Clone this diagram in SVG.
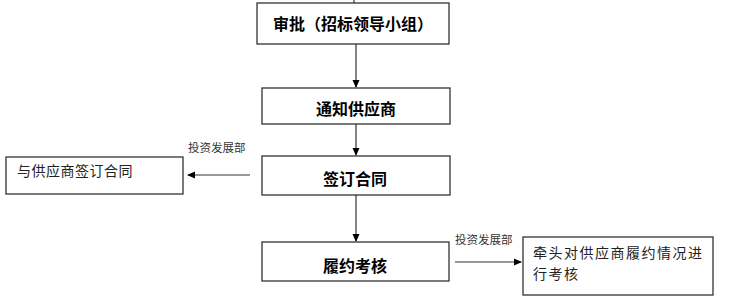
<svg xmlns="http://www.w3.org/2000/svg" width="746" height="306" viewBox="0 0 746 306">
<style>
.box{fill:#fff;stroke:#333;stroke-width:1.3}
.bt{font-family:"Liberation Sans","Noto Sans CJK SC",sans-serif;font-size:16px;font-weight:bold;fill:#000;text-anchor:middle}
.nt{font-family:"Liberation Serif","Noto Sans CJK SC",serif;font-size:14px;fill:#222;letter-spacing:1.5px}
.lb{font-family:"Liberation Serif","Noto Sans CJK SC",serif;font-size:11.5px;fill:#333}
.ln{stroke:#333;stroke-width:1.2;fill:none}
</style>
<defs>
<marker id="ah" markerWidth="8" markerHeight="8" refX="7" refY="4" orient="auto" markerUnits="userSpaceOnUse">
<path d="M0,0.5 L8,4 L0,7.5 Z" fill="#000"/>
</marker>
</defs>
<g id="connectors">
<line class="ln" x1="354" y1="0" x2="354" y2="3"/>
<line class="ln" x1="356" y1="44" x2="356" y2="87" marker-end="url(#ah)"/>
<line class="ln" x1="356" y1="124" x2="356" y2="155" marker-end="url(#ah)"/>
<line class="ln" x1="356" y1="195" x2="356" y2="241" marker-end="url(#ah)"/>
<line class="ln" x1="250" y1="175" x2="188" y2="175" marker-end="url(#ah)"/>
<line class="ln" x1="455" y1="262" x2="521" y2="262" marker-end="url(#ah)"/>
<text class="lb" x="188" y="152">投资发展部</text>
<text class="lb" x="455" y="244">投资发展部</text>
</g>
<g id="n1"><rect class="box" x="257" y="3" width="192" height="41"/><text class="bt" x="353" y="30">审批（招标领导小组）</text></g>
<g id="n2"><rect class="box" x="262" y="88" width="188" height="36"/><text class="bt" x="356" y="115">通知供应商</text></g>
<g id="n3"><rect class="box" x="262" y="156" width="188" height="39"/><text class="bt" x="355" y="185">签订合同</text></g>
<g id="n4"><rect class="box" x="262" y="242" width="187" height="39"/><text class="bt" x="355" y="272">履约考核</text></g>
<g id="n5"><rect class="box" x="6" y="157" width="177" height="37"/><text class="nt" x="17" y="176" style="letter-spacing:0.5px">与供应商签订合同</text></g>
<g id="n6"><rect class="box" x="523" y="237" width="190" height="58"/><text class="nt" x="533" y="258">牵头对供应商履约情况进</text><text class="nt" x="533" y="279">行考核</text></g>
</svg>
